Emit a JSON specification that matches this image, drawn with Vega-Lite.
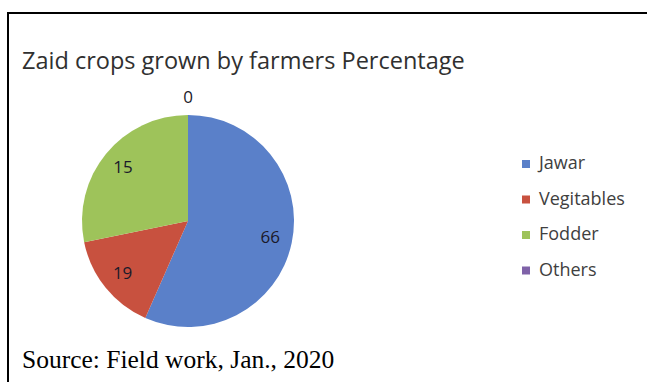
{
  "$schema": "https://vega.github.io/schema/vega-lite/v6.json",
  "width": 645,
  "height": 375,
  "autosize": "none",
  "padding": {"left": 8, "top": 13, "right": 0, "bottom": 0},
  "background": "white",
  "view": {"stroke": "#000000", "strokeWidth": 2, "fill": "white"},
  "config": {"view": {"stroke": "#000000", "strokeWidth": 2}},
  "title": {
    "text": "Zaid crops grown by farmers Percentage",
    "subtitle": "Source: Field work, Jan., 2020",
    "anchor": "start",
    "frame": "group",
    "orient": "top",
    "offset": -360,
    "dx": 14,
    "font": "Open Sans",
    "fontSize": 23.5,
    "fontWeight": "normal",
    "color": "#303030",
    "subtitleFont": "Liberation Serif",
    "subtitleFontSize": 25.5,
    "subtitleColor": "#000000",
    "subtitlePadding": 274
  },
  "data": {
    "values": [
      {"crop": "Jawar", "share": 56.6, "label": 66, "k": 1},
      {"crop": "Vegitables", "share": 15.2, "label": 19, "k": 2},
      {"crop": "Fodder", "share": 28.2, "label": 15, "k": 3},
      {"crop": "Others", "share": 0, "label": 0, "k": 4}
    ]
  },
  "encoding": {
    "theta": {"field": "share", "type": "quantitative", "stack": true},
    "order": {"field": "k", "type": "quantitative"}
  },
  "layer": [
    {
      "mark": {"type": "arc", "x": 180, "y": 208, "outerRadius": 106},
      "encoding": {
        "color": {
          "field": "crop",
          "type": "nominal",
          "sort": ["Jawar", "Vegitables", "Fodder", "Others"],
          "scale": {
            "domain": ["Jawar", "Vegitables", "Fodder", "Others"],
            "range": ["#5A80C9", "#C8513F", "#9EC35A", "#7F62A8"]
          },
          "legend": {
            "title": null,
            "orient": "none",
            "legendX": 509,
            "legendY": 142,
            "symbolType": "square",
            "symbolSize": 64,
            "symbolStrokeWidth": 0,
            "labelFont": "Open Sans",
            "labelFontSize": 18,
            "labelColor": "#404040",
            "labelOffset": 4,
            "rowPadding": 17.5
          }
        }
      }
    },
    {
      "transform": [{"filter": "datum.share > 0"}],
      "mark": {"type": "text", "x": 180, "y": 208, "radius": 84, "font": "Open Sans", "fontSize": 17, "color": "#1a1a2a"},
      "encoding": {"text": {"field": "label", "type": "quantitative"}}
    },
    {
      "transform": [{"filter": "datum.crop == 'Others'"}],
      "mark": {"type": "text", "x": 180, "y": 208, "radius": 123, "font": "Open Sans", "fontSize": 17, "color": "#1a1a2a"},
      "encoding": {"text": {"field": "label", "type": "quantitative"}}
    }
  ]
}
